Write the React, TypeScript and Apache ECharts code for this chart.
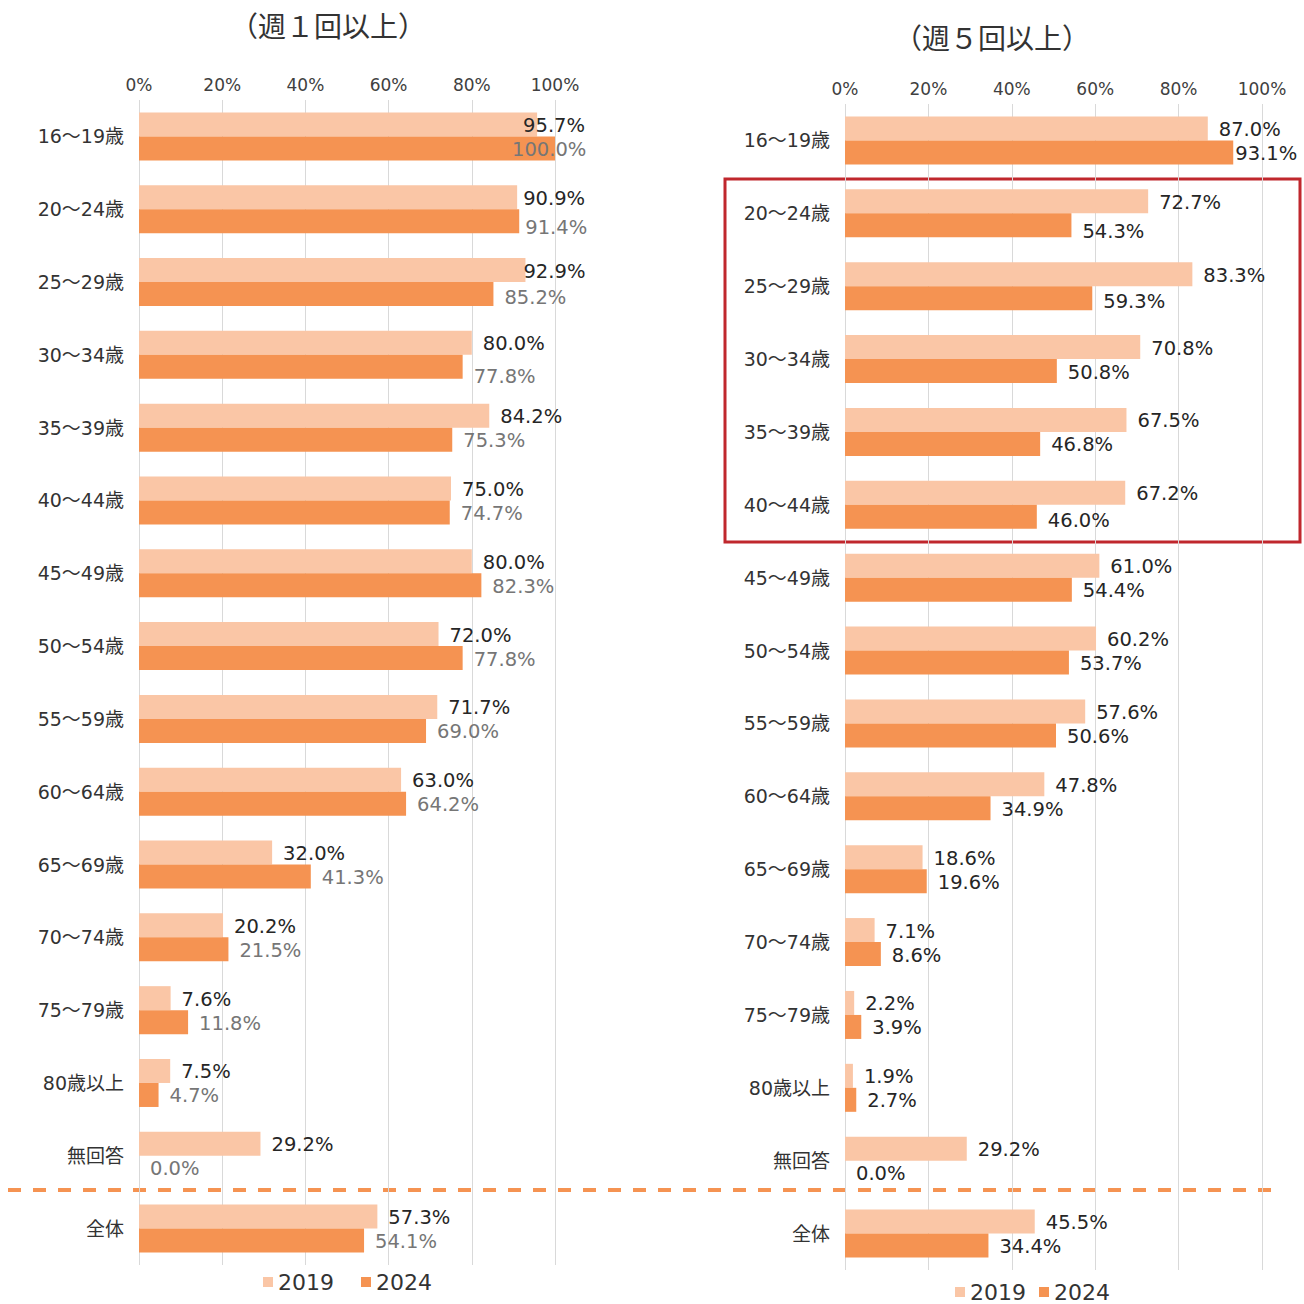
import React, { useEffect, useRef } from "react";
import * as echarts from "echarts";

const categories = ["16～19歳", "20～24歳", "25～29歳", "30～34歳", "35～39歳", "40～44歳", "45～49歳", "50～54歳", "55～59歳", "60～64歳", "65～69歳", "70～74歳", "75～79歳", "80歳以上", "無回答", "全体"];
const weekly1_2019 = [95.7, 90.9, 92.9, 80.0, 84.2, 75.0, 80.0, 72.0, 71.7, 63.0, 32.0, 20.2, 7.6, 7.5, 29.2, 57.3];
const weekly1_2024 = [100.0, 91.4, 85.2, 77.8, 75.3, 74.7, 82.3, 77.8, 69.0, 64.2, 41.3, 21.5, 11.8, 4.7, 0.0, 54.1];
const weekly5_2019 = [87.0, 72.7, 83.3, 70.8, 67.5, 67.2, 61.0, 60.2, 57.6, 47.8, 18.6, 7.1, 2.2, 1.9, 29.2, 45.5];
const weekly5_2024 = [93.1, 54.3, 59.3, 50.8, 46.8, 46.0, 54.4, 53.7, 50.6, 34.9, 19.6, 8.6, 3.9, 2.7, 0.0, 34.4];
const legendNames = ["2019", "2024"];
const tickValues = [0, 20, 40, 60, 80, 100];

const LIGHT = "#FAC6A6";
const DARK = "#F59352";
const FONT = "'DejaVu Sans', 'Noto Sans CJK JP', sans-serif";
const TITLE_FONT = "'Noto Sans CJK JP', serif";

// label position tweaks (index -> offset)
const offsL19: Record<number, number[]> = { 0: [-25, 1], 1: [-5, 1], 2: [-13, 1] };
const offsL24: Record<number, number[]> = { 0: [-54, 1], 1: [-5, 6], 2: [0, 3], 3: [0, 10] };
const offsR19: Record<number, number[]> = {};
const offsR24: Record<number, number[]> = { 0: [-9, 1], 1: [0, 6], 2: [0, 3], 5: [0, 4] };

function mkSeries(name: string, vals: number[], idx: number, color: string, labelColor: string, offs: Record<number, number[]>) {
  return {
    type: "bar",
    name,
    xAxisIndex: idx,
    yAxisIndex: idx,
    barWidth: 24,
    barGap: "0%",
    itemStyle: { color },
    label: {
      show: true,
      position: "right",
      distance: 11,
      offset: [0, 1],
      color: labelColor,
      fontSize: 19.5,
      fontFamily: FONT,
      formatter: (p: any) => Number(p.value).toFixed(1) + "%",
    },
    data: vals.map((v, i) => (offs[i] ? { value: v, label: { offset: offs[i] } } : v)),
  };
}

function axisPair(idx: number) {
  return {
    x: {
      type: "value",
      gridIndex: idx,
      position: "top",
      min: 0,
      max: 100,
      interval: 20,
      axisLine: { show: false },
      axisTick: { show: false },
      axisLabel: { fontSize: 17, color: "#404040", fontFamily: FONT, margin: 7, formatter: (v: number) => (tickValues.includes(v) ? v + "%" : "") },
      splitLine: { show: true, lineStyle: { color: "#D9D9D9", width: 1 } },
    },
    y: {
      type: "category",
      gridIndex: idx,
      inverse: true,
      data: categories,
      axisLine: { show: false },
      axisTick: { show: false },
      axisLabel: { fontSize: 19, color: "#333333", fontFamily: FONT, margin: 15 },
    },
  };
}

export default function App() {
  const ref = useRef<HTMLDivElement>(null);
  useEffect(() => {
    if (!ref.current) return;
    const chart = echarts.init(ref.current, null, { renderer: "svg" });
    const a0 = axisPair(0);
    const a1 = axisPair(1);
    const legendText = { fontSize: 22, color: "#333", fontFamily: FONT };
    chart.setOption({
      animation: false,
      backgroundColor: "#ffffff",
      grid: [
        { left: 139, top: 100, width: 416, height: 1165 },
        { left: 845, top: 104, width: 417, height: 1166 },
      ],
      xAxis: [a0.x, a1.x],
      yAxis: [a0.y, a1.y],
      legend: [
        { data: legendNames, left: 263, top: 1271, padding: 0, itemWidth: 10, itemHeight: 10, itemGap: 27, icon: "rect", textStyle: legendText },
        { data: legendNames, left: 955, top: 1281, padding: 0, itemWidth: 10, itemHeight: 10, itemGap: 13, icon: "rect", textStyle: legendText },
      ],
      series: [
        mkSeries(legendNames[0], weekly1_2019, 0, LIGHT, "#262626", offsL19),
        mkSeries(legendNames[1], weekly1_2024, 0, DARK, "#767676", offsL24),
        mkSeries(legendNames[0], weekly5_2019, 1, LIGHT, "#262626", offsR19),
        mkSeries(legendNames[1], weekly5_2024, 1, DARK, "#262626", offsR24),
      ],
      graphic: [
        { type: "text", x: 328, y: 25, style: { text: "（週１回以上）", fontSize: 28, fill: "#333", fontFamily: TITLE_FONT, textAlign: "center", textVerticalAlign: "middle" } },
        { type: "text", x: 992, y: 37, style: { text: "（週５回以上）", fontSize: 28, fill: "#333", fontFamily: TITLE_FONT, textAlign: "center", textVerticalAlign: "middle" } },
        { type: "line", shape: { x1: 8, y1: 1190, x2: 1280, y2: 1190 }, style: { stroke: DARK, lineWidth: 4, lineDash: [13, 12] } },
        { type: "rect", shape: { x: 725, y: 179, width: 575, height: 363 }, style: { stroke: "#C0272D", lineWidth: 3, fill: "none" } },
      ],
    });
    return () => chart.dispose();
  }, []);
  return <div ref={ref} style={{ position: "absolute", left: 0, top: 0, width: 1304, height: 1304 }} />;
}
